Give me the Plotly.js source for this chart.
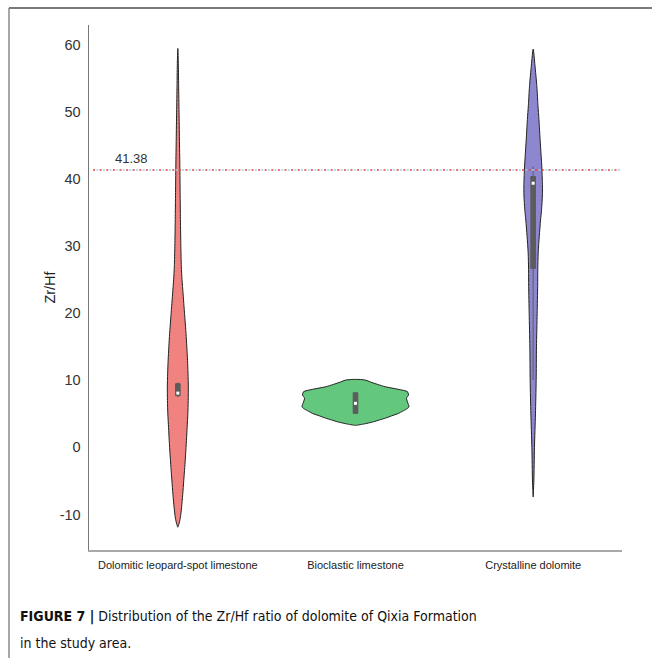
<!DOCTYPE html>
<html>
<head>
<meta charset="utf-8">
<script src="https://cdn.plot.ly/plotly-3.0.1.min.js"></script>
<style>html,body{margin:0;padding:0;background:#fff;}#chart{width:652px;height:658px;}</style>
</head>
<body>
<div id="chart"></div>
<script>
// ---- data ----
var categories = ["Dolomitic leopard-spot limestone", "Bioclastic limestone", "Crystalline dolomite"];
var fillColors = ["#F0827F", "#63C77E", "#8C87CF"];

// violin outlines: value levels and density half-width (in category units)
var v1Y = [59.5, 57, 54, 50, 46, 42, 38, 34, 30, 27, 25, 23, 21, 19, 17, 15, 13, 11, 9, 7, 5, 3, 1, -1, -3, -5, -7, -9, -10.5, -11.5, -11.9];
var v1W = [0, 0.003, 0.0045, 0.0068, 0.009, 0.0113, 0.0129, 0.0146, 0.0169, 0.0197, 0.0236, 0.0293, 0.0349, 0.0405, 0.0461, 0.0506, 0.0546, 0.0574, 0.0591, 0.0585, 0.0563, 0.0523, 0.0484, 0.0439, 0.0388, 0.0332, 0.0276, 0.0208, 0.0141, 0.0056, 0];

var v2Y = [10.15, 10.04, 9.75, 9.4, 9.04, 8.66, 8.3, 7.8, 7.36, 6.76, 6.06, 5.72, 5.4, 5.07, 4.7, 4.37, 4.1, 3.82, 3.48, 3.28];
var v2W = [0, 0.0563, 0.0844, 0.1238, 0.1688, 0.242, 0.2926, 0.2983, 0.287, 0.2926, 0.3011, 0.287, 0.2645, 0.242, 0.2026, 0.1688, 0.1351, 0.1013, 0.045, 0];

var v3Y = [59.4, 57, 53.8, 51, 48.9, 46, 43.9, 41.4, 39, 37.5, 35.5, 33.9, 31.5, 29, 26.5, 24, 20, 15, 10, 5, 0, -5, -7.4];
var v3W = [0, 0.0101, 0.0208, 0.027, 0.0326, 0.0388, 0.0439, 0.0495, 0.0523, 0.0518, 0.0473, 0.0416, 0.0343, 0.0281, 0.0259, 0.0253, 0.0225, 0.0186, 0.0169, 0.0129, 0.0073, 0.0039, 0];

// inner box statistics
var q1 = [7.7, 5.07, 26.7];
var q3 = [9.5, 8.15, 40.4];
var medians = [8.1, 6.57, 39.4];
var whiskerLo = [7.5, 5.07, 10];
var whiskerHi = [9.7, 8.15, 41.9];

var refValue = 41.38;
var refLabel = "41.38";

// ---- build ----
var outlines = [[v1Y, v1W], [v2Y, v2W], [v3Y, v3W]];
var traces = [];
var boxHalf = 0.013;

outlines.forEach(function (o, i) {
  var ys = o[0], ws = o[1];
  var xs = [], yy = [];
  for (var k = 0; k < ys.length; k++) { xs.push(i + ws[k]); yy.push(ys[k]); }
  for (var k = ys.length - 1; k >= 0; k--) { xs.push(i - ws[k]); yy.push(ys[k]); }
  traces.push({
    type: "scatter", mode: "lines", x: xs, y: yy, fill: "toself",
    fillcolor: fillColors[i], line: {color: "#222", width: 1, shape: "spline", smoothing: 0.7},
    hoverinfo: "skip", showlegend: false
  });
});

for (var i = 0; i < 3; i++) {
  traces.push({
    type: "scatter", mode: "lines", x: [i, i], y: [whiskerLo[i], whiskerHi[i]],
    line: {color: "#666", width: 1.2}, showlegend: false, hoverinfo: "skip"
  });
  traces.push({
    type: "scatter", mode: "lines",
    x: [i - boxHalf, i + boxHalf, i + boxHalf, i - boxHalf, i - boxHalf],
    y: [q1[i], q1[i], q3[i], q3[i], q1[i]],
    fill: "toself", fillcolor: "#5c5c5c", line: {color: "#5c5c5c", width: 1},
    showlegend: false, hoverinfo: "skip"
  });
}
traces.push({
  type: "scatter", mode: "markers", x: [0, 1, 2], y: medians,
  marker: {color: "#ffffff", size: 3, symbol: "square"}, showlegend: false
});

var captionFont = {size: 14, color: "#111", family: "DejaVu Sans Condensed, Liberation Sans Narrow, Arial Narrow, sans-serif"};

var layout = {
  width: 652, height: 658,
  margin: {l: 89, r: 30, t: 25, b: 108},
  paper_bgcolor: "#ffffff", plot_bgcolor: "#ffffff",
  font: {family: "Liberation Sans, Arial, sans-serif", color: "#333"},
  showlegend: false,
  xaxis: {
    range: [-0.5, 2.5], tickvals: [0, 1, 2], ticktext: categories,
    showgrid: false, zeroline: false, showline: true, linecolor: "#a8a8a8", linewidth: 1.5,
    ticks: "", tickfont: {size: 11, color: "#222"}, ticklabelstandoff: 4, fixedrange: true
  },
  yaxis: {
    range: [-15.3, 63], tickvals: [-10, 0, 10, 20, 30, 40, 50, 60],
    ticktext: ["-10", "0", "10", "20", "30", "40", "50", "60"],
    showgrid: false, zeroline: false, showline: true, linecolor: "#777", linewidth: 1.5,
    ticks: "", tickfont: {size: 14.5, color: "#333"}, ticklabelstandoff: 4,
    title: {text: "Zr/Hf", font: {size: 14.5, color: "#222"}, standoff: 0}
  },
  shapes: [
    {type: "line", xref: "x", yref: "y", x0: -0.477, x1: 2.49, y0: refValue, y1: refValue,
     line: {color: "#a9d0e6", width: 1.5, dash: "0px,3.3px,2px,1.3px"}},
    {type: "line", xref: "x", yref: "y", x0: -0.477, x1: 2.49, y0: refValue, y1: refValue,
     line: {color: "#e8413c", width: 1.5, dash: "2px,4.6px"}},
    {type: "line", xref: "paper", yref: "paper", x0: -0.1501, x1: -0.1501, y0: 1.0324, y1: -0.21,
     line: {color: "#8a8a8a", width: 1.5}},
    {type: "line", xref: "paper", yref: "paper", x0: -0.1501, x1: 1.06, y0: 1.0324, y1: 1.0324,
     line: {color: "#7a7a7a", width: 2}}
  ],
  annotations: [
    {xref: "x", yref: "y", x: -0.259, y: refValue, yanchor: "bottom", yshift: 2, showarrow: false,
     text: refLabel, font: {size: 13, color: "#333"}},
    {xref: "paper", yref: "paper", x: -0.1332, y: -0.1276, xanchor: "left", yanchor: "middle", showarrow: false,
     text: "<b>FIGURE 7 |</b> Distribution of the Zr/Hf ratio of dolomite of Qixia Formation",
     font: captionFont},
    {xref: "paper", yref: "paper", x: -0.1332, y: -0.1771, xanchor: "left", yanchor: "middle", showarrow: false,
     text: "in the study area.", font: captionFont}
  ]
};

Plotly.newPlot("chart", traces, layout, {displayModeBar: false, staticPlot: true});
</script>
</body>
</html>
